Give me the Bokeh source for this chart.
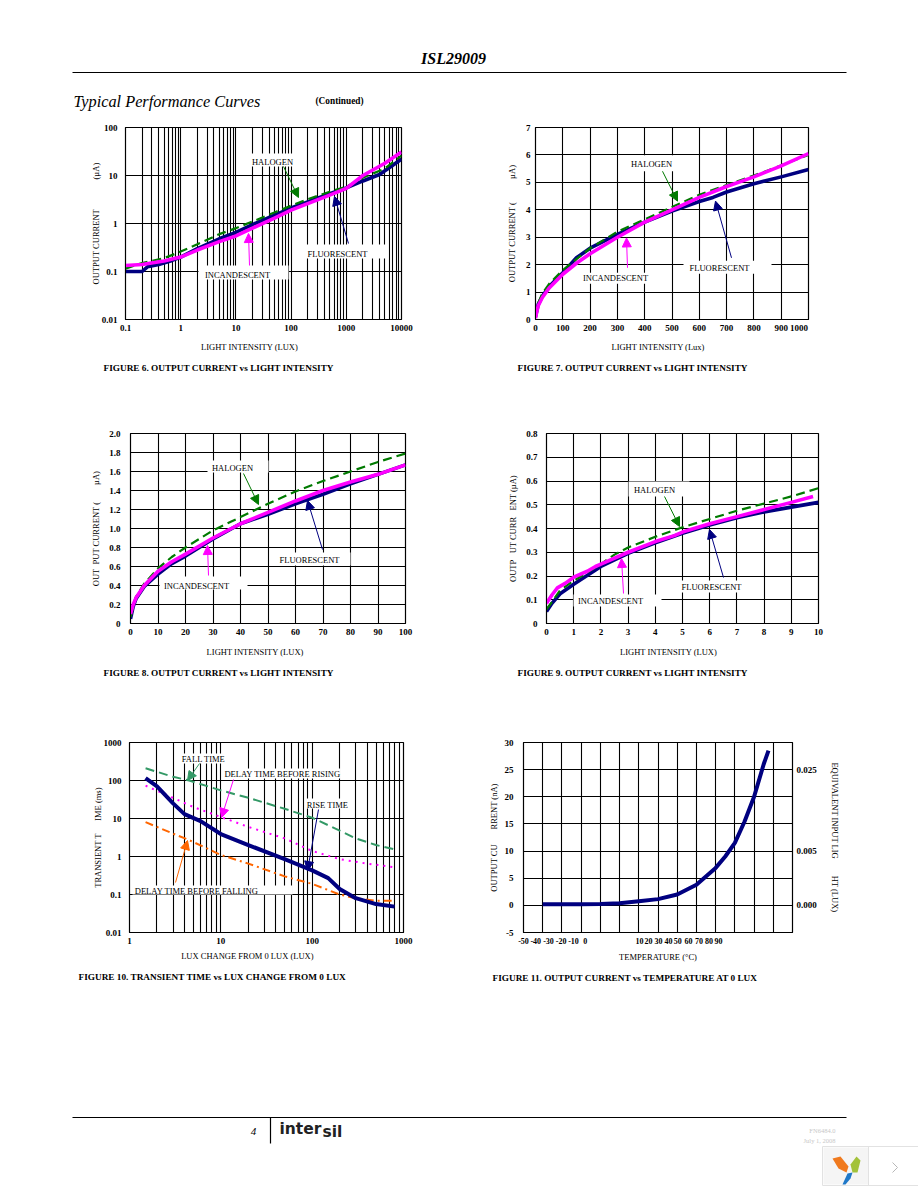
import math
from bokeh.embed import file_html
from bokeh.resources import INLINE
from bokeh.layouts import column, row
from bokeh.models import (AllLabels, Arrow, BoxAnnotation, FixedTicker, Label, LinearAxis, NormalHead, Range1d, Title)
from bokeh.plotting import figure

# ---------- data ----------
f6_fluor_x = [0.1, 0.2, 0.25, 0.4, 0.7, 1, 2, 5, 10, 20, 50, 100, 200, 500, 1000, 2000, 4000, 6000, 10000]
f6_fluor_y = [0.1, 0.1, 0.125, 0.14, 0.17, 0.2, 0.3, 0.48, 0.65, 0.95, 1.5, 2.1, 2.8, 4.2, 5.5, 7.7, 10.5, 14.5, 22]
f6_halo_x = [0.1, 0.2, 0.5, 1, 2, 5, 10, 20, 50, 100, 200, 500, 1000, 2000, 5000, 10000]
f6_halo_y = [0.115, 0.15, 0.19, 0.26, 0.37, 0.6, 0.8, 1.1, 1.7, 2.35, 3.2, 4.6, 5.8, 9, 14, 26]
f6_inc_x = [0.1, 0.2, 0.5, 1, 2, 5, 10, 20, 50, 100, 200, 500, 1000, 2000, 5000, 10000]
f6_inc_y = [0.133, 0.14, 0.165, 0.2, 0.28, 0.42, 0.55, 0.8, 1.3, 1.9, 2.6, 3.9, 5.4, 10, 18, 31]

f7_fluor_x = [0, 10, 25, 50, 100, 150, 200, 300, 400, 500, 600, 650, 700, 800, 900, 1000]
f7_fluor_y = [0.1, 0.55, 0.85, 1.2, 1.7, 2.25, 2.6, 3.1, 3.55, 3.95, 4.3, 4.45, 4.65, 4.95, 5.2, 5.47]
f7_halo_x = [0, 10, 25, 50, 100, 150, 200, 300, 400, 500, 600, 700, 800, 870, 1000]
f7_halo_y = [0.1, 0.6, 0.95, 1.3, 1.8, 2.2, 2.6, 3.2, 3.65, 4.1, 4.55, 4.9, 5.25, 5.5, 6.0]
f7_inc_x = [0, 5, 10, 25, 50, 100, 150, 200, 300, 400, 500, 600, 700, 800, 900, 1000]
f7_inc_y = [0.05, 0.3, 0.5, 0.8, 1.15, 1.65, 2.05, 2.4, 3.0, 3.55, 4.0, 4.45, 4.85, 5.2, 5.6, 6.05]

f8_fluor_x = [0, 1, 2, 5, 10, 15, 20, 30, 40, 50, 60, 70, 80, 90, 100]
f8_fluor_y = [0.05, 0.18, 0.26, 0.39, 0.52, 0.63, 0.71, 0.89, 1.05, 1.15, 1.26, 1.36, 1.47, 1.57, 1.67]
f8_halo_x = [0, 2, 5, 10, 15, 20, 30, 40, 50, 60, 70, 80, 90, 100]
f8_halo_y = [0.07, 0.28, 0.42, 0.58, 0.7, 0.8, 0.98, 1.12, 1.26, 1.39, 1.5, 1.6, 1.7, 1.79]
f8_inc_x = [0, 1, 2, 5, 10, 15, 20, 30, 40, 50, 60, 70, 80, 90, 100]
f8_inc_y = [0.1, 0.2, 0.27, 0.4, 0.55, 0.65, 0.73, 0.9, 1.05, 1.17, 1.29, 1.4, 1.49, 1.57, 1.67]

f9_fluor_x = [0, 0.2, 0.5, 1, 2, 3, 4, 5, 6, 7, 8, 9, 10]
f9_fluor_y = [0.05, 0.085, 0.125, 0.165, 0.24, 0.295, 0.34, 0.38, 0.415, 0.445, 0.47, 0.49, 0.51]
f9_halo_x = [0, 0.2, 0.5, 1, 2, 2.5, 3, 4, 5, 6, 7, 8, 9, 10]
f9_halo_y = [0.06, 0.09, 0.14, 0.18, 0.25, 0.29, 0.32, 0.365, 0.405, 0.44, 0.475, 0.505, 0.535, 0.57]
f9_inc_x = [0, 0.2, 0.4, 0.7, 1, 1.5, 1.8, 2, 3, 4, 4.7, 5, 6, 7, 8, 9, 9.8]
f9_inc_y = [0.085, 0.12, 0.15, 0.17, 0.195, 0.22, 0.24, 0.25, 0.3, 0.345, 0.37, 0.385, 0.42, 0.45, 0.48, 0.51, 0.535]

f10_fall_x = [1.5, 3, 4.5, 10, 20, 50, 100, 200, 300, 500, 800]
f10_fall_y = [210, 125, 100, 55, 35, 18, 10.5, 4.8, 3, 2, 1.55]
f10_rise_delay_x = [1.5, 3, 5, 10, 20, 50, 100, 200, 400, 800]
f10_rise_delay_y = [73, 35, 20, 11, 6, 3, 1.4, 0.85, 0.65, 0.52]
f10_rise_x = [1.5, 2, 3, 4, 6, 10, 20, 50, 100, 150, 200, 300, 500, 800]
f10_rise_y = [115, 70, 25, 13, 8.5, 3.9, 2, 0.85, 0.43, 0.27, 0.14, 0.08, 0.056, 0.048]
f10_fall_delay_x = [1.5, 3, 4.5, 10, 20, 50, 100, 200, 300, 500, 800]
f10_fall_delay_y = [8, 4, 2.7, 1.1, 0.65, 0.3, 0.19, 0.1, 0.08, 0.068, 0.068]

f11_temp = [-40, -20, -10, 0, 10, 20, 30, 40, 50, 55, 60, 65, 70, 75, 77.5]
f11_current = [0.2, 0.2, 0.25, 0.4, 0.75, 1.15, 2.0, 3.8, 6.9, 9, 11.5, 15.4, 20, 26, 28.5]

log_x_f6 = [0.1, 1, 10, 100, 1000, 10000]
log_y_f6 = [0.01, 0.1, 1, 10, 100]
log_labels_f6_x = ["0.1", "1", "10", "100", "1000", "10000"]
log_labels_f6_y = ["0.01", "0.1", "1", "10", "100"]
f7_x_grid = [0, 100, 200, 300, 400, 500, 600, 700, 800, 900, 1000]
f7_x_labels = ["0", "100", "200", "300", "400", "500", "600", "700", "800", "900", "1000"]
f7_y_ticks = [0, 1, 2, 3, 4, 5, 6, 7]
f8_x_ticks = [0, 10, 20, 30, 40, 50, 60, 70, 80, 90, 100]
f8_y_ticks = [0, 0.2, 0.4, 0.6, 0.8, 1.0, 1.2, 1.4, 1.6, 1.8, 2.0]
f8_y_labels = ["0", "0.2", "0.4", "0.6", "0.8", "1.0", "1.2", "1.4", "1.6", "1.8", "2.0"]
f9_x_ticks = [0, 1, 2, 3, 4, 5, 6, 7, 8, 9, 10]
f9_y_ticks = [0, 0.1, 0.2, 0.3, 0.4, 0.5, 0.6, 0.7, 0.8]
f9_y_labels = ["0", "0.1", "0.2", "0.3", "0.4", "0.5", "0.6", "0.7", "0.8"]
f10_x_ticks = [1, 10, 100, 1000]
f10_y_ticks = [0.01, 0.1, 1, 10, 100, 1000]
f10_y_labels = ["0.01", "0.1", "1", "10", "100", "1000"]
f11_x_grid = [-50, -40, -30, -20, -10, 0, 10, 20, 30, 40, 50, 60, 70, 80, 90]
f11_x_labels = ["-50", "-40", "-30", "-20", "-10", "0", "10", "20", "30", "40", "50", "60", "70", "80", "90"]
f11_y_ticks = [-5, 0, 5, 10, 15, 20, 25, 30]
f11_right_ticks = [0, 10, 25]
f11_right_labels = ["0.000", "0.005", "0.025"]

# where the printed tick labels sit (they do not follow the grid in these two panels)
f7_x_label_pos = [0, 100, 200, 300, 400, 500, 600, 700, 800, 900, 965]
f11_x_label_pos = [-50, -43.6, -37, -30.4, -24, -17.9, 10.4, 15, 20.3, 25.5, 30.3, 35.9, 41.3, 46.6, 51.5]

SERIF = "Liberation Serif"
NAVY, MAGENTA, GREEN = "#000080", "#ff00ff", "#007a00"
BLACK = "#000000"
LEFT_COL = (0, 465)
RIGHT_COL = (465, 918)
ROW1, ROW2, ROW3 = (112, 400), (400, 700), (700, 1000)
NB = "\u00a0"


def log_minors(major):
    return [m * k for m in major[:-1] for k in range(2, 10)]


def style_axis(ax):
    ax.major_tick_line_color = None
    ax.minor_tick_line_color = None
    ax.major_tick_out = 0
    ax.major_tick_in = 0
    ax.minor_tick_out = 0
    ax.minor_tick_in = 0
    ax.axis_line_color = BLACK
    ax.major_label_text_font = SERIF
    ax.major_label_text_font_style = "bold"
    ax.major_label_text_font_size = "9px"
    ax.major_label_text_color = BLACK
    ax.major_label_policy = AllLabels()
    ax.axis_label_text_font = SERIF
    ax.axis_label_text_font_style = "normal"
    ax.axis_label_text_font_size = "8.5px"
    ax.axis_label_text_color = BLACK


def make_panel(col, row_span, frame, xr, yr, log=False):
    x0, x1 = col
    y0, y1 = row_span
    l, r, t, b = frame
    p = figure(width=x1 - x0, height=y1 - y0, output_backend="svg", toolbar_location=None,
               x_axis_type="log" if log else "linear", y_axis_type="log" if log else "linear",
               x_range=Range1d(*xr), y_range=Range1d(*yr),
               min_border_left=l - x0, min_border_right=x1 - r, min_border_top=t - y0, min_border_bottom=y1 - b,
               background_fill_color="white", border_fill_color="white", outline_line_color=BLACK,
               outline_line_width=1.2)
    style_axis(p.xaxis)
    style_axis(p.yaxis)
    p.xgrid.grid_line_color = BLACK
    p.ygrid.grid_line_color = BLACK
    p.xgrid.grid_line_width = 1.1
    p.ygrid.grid_line_width = 1.1

    def cvt(px, py):
        fx = (px - l) / (r - l)
        fy = (py - t) / (b - t)
        if log:
            dx = 10 ** (math.log10(xr[0]) + fx * (math.log10(xr[1]) - math.log10(xr[0])))
            dy = 10 ** (math.log10(yr[1]) + fy * (math.log10(yr[0]) - math.log10(yr[1])))
        else:
            dx = xr[0] + fx * (xr[1] - xr[0])
            dy = yr[1] + fy * (yr[0] - yr[1])
        return dx, dy
    return p, cvt


def set_axis(axis, grid, ticks, labels, standoff, minors=None, grid_ticks=None):
    axis.ticker = FixedTicker(ticks=list(ticks), minor_ticks=minors or [])
    axis.major_label_overrides = {t: s for t, s in zip(ticks, labels)}
    axis.major_label_standoff = standoff
    if grid_ticks is not None or minors:
        grid.ticker = FixedTicker(ticks=list(grid_ticks if grid_ticks is not None else ticks), minor_ticks=minors or [])
    if minors:
        grid.minor_grid_line_color = BLACK
        grid.minor_grid_line_width = 1.1


def titles(p, xlabel, x_stand, ylabel, y_stand, caption, offset, cap_stand=12):
    p.xaxis.axis_label = xlabel
    p.xaxis.axis_label_standoff = x_stand
    p.left[0].axis_label = ylabel
    p.left[0].axis_label_standoff = y_stand
    p.add_layout(Title(text=caption, align="left", offset=offset, standoff=cap_stand, text_font=SERIF,
                       text_font_size="9.25px", text_font_style="bold", text_color=BLACK), "below")


def txt(p, cvt, px, py, text, size="9px", style="bold", align="center", color=BLACK, font=SERIF):
    x, y = cvt(px, py)
    p.add_layout(Label(x=x, y=y, text=text, text_font=font, text_font_size=size, text_font_style=style,
                       text_align=align, text_baseline="middle", text_color=color))


def tag(p, cvt, box, center, text, arrow, color):
    l, r, t, b = box
    xl, yt = cvt(l, t)
    xr_, yb = cvt(r, b)
    p.add_layout(BoxAnnotation(left=xl, right=xr_, top=yt, bottom=yb, fill_color="white", fill_alpha=1.0,
                               line_color=None, level="underlay"))
    txt(p, cvt, center[0], center[1], text, size="8.5px", style="normal")
    xs, ys = cvt(arrow[0], arrow[1])
    xe, ye = cvt(arrow[2], arrow[3])
    p.add_layout(Arrow(x_start=xs, y_start=ys, x_end=xe, y_end=ye, line_color=color, line_width=1,
                       end=NormalHead(size=9, fill_color=color, line_color=color)))


def three_curves(p, fx, fy, hx, hy, ix, iy):
    p.line(fx, fy, line_color=NAVY, line_width=3.6, line_join="round")
    p.line(hx, hy, line_color=GREEN, line_width=2.2, line_dash="9 5")
    p.line(ix, iy, line_color=MAGENTA, line_width=3.6, line_join="round")


# ---- figure 6 ----
p6, c6 = make_panel(LEFT_COL, ROW1, (125, 401, 127, 319), (0.1, 10000), (0.01, 100), log=True)
set_axis(p6.xaxis, p6.xgrid, log_x_f6, log_labels_f6_x, 5, minors=log_minors(log_x_f6))
set_axis(p6.yaxis, p6.ygrid, log_y_f6, log_labels_f6_y, 8, grid_ticks=log_y_f6)
three_curves(p6, f6_fluor_x, f6_fluor_y, f6_halo_x, f6_halo_y, f6_inc_x, f6_inc_y)
tag(p6, c6, (250, 305, 153, 166), (272, 161), "HALOGEN", (283, 166, 298, 197), GREEN)
tag(p6, c6, (305, 387, 244, 258), (337, 253), "FLUORESCENT", (348, 243, 334, 196), NAVY)
tag(p6, c6, (198, 288, 265, 279), (237, 274), "INCANDESCENT", (249, 265, 248, 233), MAGENTA)
titles(p6, "LIGHT INTENSITY (LUX)" + NB * 13, 8, "OUTPUT CURRENT" + NB * 14 + "(\u00b5A)", -2,
       "FIGURE 6. OUTPUT CURRENT vs LIGHT INTENSITY", -22)

# ---- figure 7 ----
p7, c7 = make_panel(RIGHT_COL, ROW1, (535, 808, 126, 319), (0, 1000), (0, 7))
set_axis(p7.xaxis, p7.xgrid, f7_x_label_pos, f7_x_labels, 5, grid_ticks=f7_x_grid)
set_axis(p7.yaxis, p7.ygrid, f7_y_ticks, [str(v) for v in f7_y_ticks], 5)
three_curves(p7, f7_fluor_x, f7_fluor_y, f7_halo_x, f7_halo_y, f7_inc_x, f7_inc_y)
tag(p7, c7, (625, 687, 154, 170), (651, 163), "HALOGEN", (662, 170, 677, 200), GREEN)
tag(p7, c7, (683, 771, 260, 273), (719, 267), "FLUORESCENT", (731, 257, 715, 200), NAVY)
tag(p7, c7, (575, 650, 272, 283), (615, 277), "INCANDESCENT", (627, 267, 626, 237), MAGENTA)
titles(p7, "LIGHT INTENSITY (Lux)" + NB * 13, 8, "OUTPUT CURRENT (" + NB * 11 + "\u00b5A)", 6,
       "FIGURE 7. OUTPUT CURRENT vs LIGHT INTENSITY", -18)

# ---- figure 8 ----
p8, c8 = make_panel(LEFT_COL, ROW2, (130, 405, 433, 623), (0, 100), (0, 2.0))
set_axis(p8.xaxis, p8.xgrid, f8_x_ticks, [str(v) for v in f8_x_ticks], 5)
set_axis(p8.yaxis, p8.ygrid, f8_y_ticks, f8_y_labels, 10)
three_curves(p8, f8_fluor_x, f8_fluor_y, f8_halo_x, f8_halo_y, f8_inc_x, f8_inc_y)
tag(p8, c8, (207, 268, 460, 472), (232, 467), "HALOGEN", (243, 473, 258, 504), GREEN)
tag(p8, c8, (277, 350, 552, 565), (309, 559), "FLUORESCENT", (322, 549, 307, 500), NAVY)
tag(p8, c8, (159, 247, 576, 589), (196, 585), "INCANDESCENT", (208, 575, 207, 545), MAGENTA)
titles(p8, "LIGHT INTENSITY (LUX)" + NB * 12, 9, "OUT" + NB * 2 + "PUT CURRENT (" + NB * 8 + "\u00b5A)", 5,
       "FIGURE 8. OUTPUT CURRENT vs LIGHT INTENSITY", -27)

# ---- figure 9 ----
p9, c9 = make_panel(RIGHT_COL, ROW2, (546, 818, 433, 623), (0, 10), (0, 0.8))
set_axis(p9.xaxis, p9.xgrid, f9_x_ticks, [str(v) for v in f9_x_ticks], 5)
set_axis(p9.yaxis, p9.ygrid, f9_y_ticks, f9_y_labels, 9)
three_curves(p9, f9_fluor_x, f9_fluor_y, f9_halo_x, f9_halo_y, f9_inc_x, f9_inc_y)
tag(p9, c9, (628, 689, 481, 496), (654, 489), "HALOGEN", (664, 496, 679, 526), GREEN)
tag(p9, c9, (678, 750, 580, 592), (711, 586), "FLUORESCENT", (723, 577, 709, 529), NAVY)
tag(p9, c9, (573, 661, 594, 606), (610, 600), "INCANDESCENT", (623, 593, 621, 558), MAGENTA)
titles(p9, "LIGHT INTENSITY (LUX)" + NB * 13, 9, "OUTP" + NB * 3 + "UT CURR" + NB * 3 + "ENT (\u00b5A)", 5,
       "FIGURE 9. OUTPUT CURRENT vs LIGHT INTENSITY", -29)

# ---- figure 10 ----
p10, c10 = make_panel(LEFT_COL, ROW3, (129, 403, 742, 932), (1, 1000), (0.01, 1000), log=True)
set_axis(p10.xaxis, p10.xgrid, f10_x_ticks, [str(v) for v in f10_x_ticks], 5, minors=log_minors(f10_x_ticks))
set_axis(p10.yaxis, p10.ygrid, f10_y_ticks, f10_y_labels, 8, grid_ticks=f10_y_ticks)
p10.line(f10_fall_x, f10_fall_y, line_color="#339966", line_width=2, line_dash="9 5")
p10.line(f10_rise_delay_x, f10_rise_delay_y, line_color=MAGENTA, line_width=2, line_dash="2 5")
p10.line(f10_fall_delay_x, f10_fall_delay_y, line_color="#ff6600", line_width=2, line_dash="8 4 2 4")
p10.line(f10_rise_x, f10_rise_y, line_color=NAVY, line_width=4, line_join="round")
tag(p10, c10, (182, 227, 753, 763), (203, 758), "FALL TIME", (199, 763, 187, 780), "#339966")
tag(p10, c10, (222, 340, 768, 778), (282, 773), "DELAY TIME BEFORE RISING", (233, 779, 221, 817), MAGENTA)
tag(p10, c10, (305, 348, 798, 808), (327, 804), "RISE TIME", (318, 809, 307, 870), NAVY)
tag(p10, c10, (132, 292, 885, 894), (196, 890), "DELAY TIME BEFORE FALLING", (175, 882, 187, 840), "#ff6600")
titles(p10, "LUX CHANGE FROM 0 LUX (LUX)" + NB * 18, 4, "TRANSIENT T" + NB * 6 + "IME (ms)", -2,
       "FIGURE 10. TRANSIENT TIME vs LUX CHANGE FROM 0 LUX", -51)

# ---- figure 11 ----
p11, c11 = make_panel(RIGHT_COL, ROW3, (523, 792, 742, 932), (-50, 90), (-5, 30))
set_axis(p11.xaxis, p11.xgrid, f11_x_label_pos, f11_x_labels, 5, grid_ticks=f11_x_grid)
p11.xaxis.major_label_text_font_size = "8px"
set_axis(p11.yaxis, p11.ygrid, f11_y_ticks, [str(v) for v in f11_y_ticks], 10)
right = LinearAxis(ticker=FixedTicker(ticks=f11_right_ticks),
                   major_label_overrides={t: s for t, s in zip(f11_right_ticks, f11_right_labels)},
                   major_label_standoff=4, axis_label="EQUIVALENT INPUT LIG" + NB * 8 + "HT (LUX)",
                   axis_label_standoff=10)
style_axis(right)
p11.add_layout(right, "right")
p11.line(f11_temp, f11_current, line_color=NAVY, line_width=4, line_join="round")
titles(p11, "TEMPERATURE (\u00b0C)", 5, "OUTPUT CU" + NB * 7 + "RRENT (nA)", 3,
       "FIGURE 11. OUTPUT CURRENT vs TEMPERATURE AT 0 LUX", -31)


# ---- page head and foot ----
def sheet(y0, y1):
    p = figure(width=918, height=y1 - y0, output_backend="svg", toolbar_location=None,
               x_range=Range1d(0, 918), y_range=Range1d(y1, y0), x_axis_type=None, y_axis_type=None,
               min_border=0, outline_line_color=None, background_fill_color="white", border_fill_color="white")
    return p, (lambda a, b: (a, b))


head, ch = sheet(0, 112)
head.line([72, 846], [72, 72], line_color=BLACK, line_width=1.2)
txt(head, ch, 453, 58, "ISL29009", size="16px", style="bold italic")
txt(head, ch, 73, 101, "Typical Performance Curves", size="16.3px", style="italic", align="left")
txt(head, ch, 315, 100, "(Continued)", size="9.3px", align="left")

foot, cf = sheet(1000, 1188)
foot.line([72, 846], [1117, 1117], line_color=BLACK, line_width=1.2)
foot.line([270, 270], [1117, 1143], line_color=BLACK, line_width=1.2)
txt(foot, cf, 253, 1131, "4", size="11px", style="italic")
txt(foot, cf, 279, 1128, "inter", size="15.5px", style="bold", align="left", font="DejaVu Sans", color="#222222")
txt(foot, cf, 322, 1131, "sil", size="15.5px", style="bold", align="left", font="DejaVu Sans", color="#222222")
txt(foot, cf, 835, 1130, "FN6484.0", size="6.5px", style="normal", align="right", color="#c8c8c8")
txt(foot, cf, 835, 1140, "July 1, 2008", size="6.5px", style="normal", align="right", color="#c8c8c8")
foot.quad(left=[822], right=[918], top=[1146], bottom=[1185], fill_color="#ffffff", line_color="#e2e2e2", line_width=1)
foot.quad(left=[823], right=[868], top=[1147], bottom=[1184], fill_color="#f5f5f5", line_color=None)
foot.line([868, 868], [1146, 1185], line_color="#e2e2e2")
foot.patch([832, 840, 848, 846, 838], [1158, 1156, 1166, 1172, 1168], fill_color="#f07a1e", line_color=None)
foot.patch([850, 856, 860, 857, 852], [1164, 1156, 1160, 1172, 1172], fill_color="#a3c23a", line_color=None)
foot.patch([842, 847, 852, 850, 845], [1184, 1173, 1172, 1178, 1184], fill_color="#1f78c8", line_color=None)
foot.line([892, 897, 892], [1162, 1167, 1172], line_color="#b8b8b8", line_width=1)

page = column(head, row(p6, p7), row(p8, p9), row(p10, p11), foot, spacing=0)
open("out.html", "w").write(file_html(page, INLINE))
